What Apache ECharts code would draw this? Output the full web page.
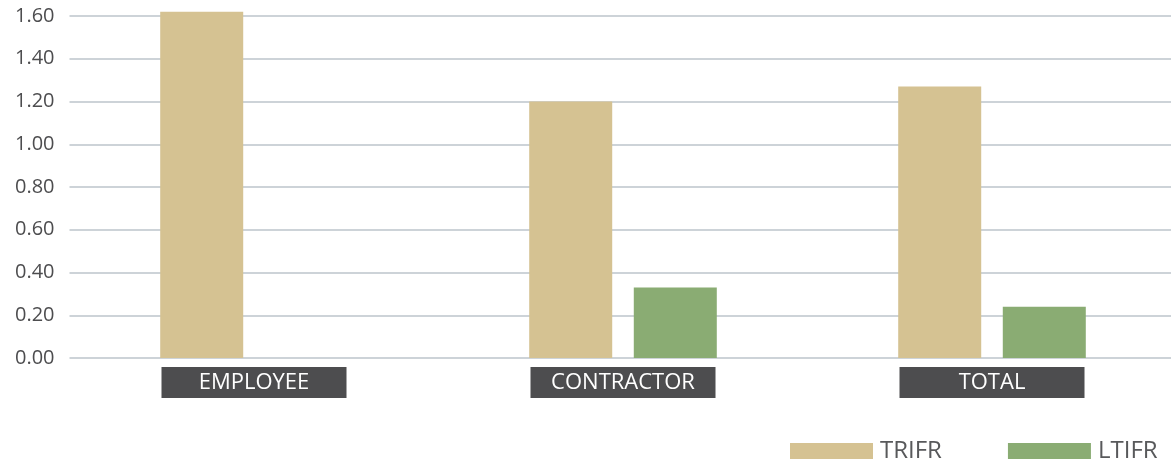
<!DOCTYPE html>
<html>
<head>
<meta charset="utf-8">
<script src="https://cdn.jsdelivr.net/npm/echarts@6/dist/echarts.min.js"></script>
<style>
  html, body { margin: 0; padding: 0; background: #fff; }
  #chart { width: 1171px; height: 466px; }
</style>
</head>
<body>
<div id="chart"></div>
<script>
// categories and values
const categories = ['EMPLOYEE', 'CONTRACTOR', 'TOTAL'];
const trifr = [1.62, 1.20, 1.27];
const ltifr = [null, 0.33, 0.24];
const seriesNames = ['TRIFR', 'LTIFR'];
const colors = ['#d5c292', '#8aac73'];

const FONT = '"Open Sans", sans-serif';

const chart = echarts.init(document.getElementById('chart'));

const option = {
  animation: false,
  color: colors,
  grid: {
    left: 69.5,
    top: 16,
    width: 1107,
    height: 342,
    containLabel: false,
    outerBoundsMode: 'none'
  },
  legend: {
    data: seriesNames,
    left: 790,
    top: 439,
    padding: 0,
    itemWidth: 83,
    itemHeight: 16,
    itemGap: 66,
    icon: 'rect',
    textStyle: {
      fontFamily: FONT,
      fontSize: 24,
      color: '#58595b',
      padding: [14, 0, 0, 2]
    }
  },
  xAxis: {
    type: 'category',
    data: categories,
    axisLine: { show: false },
    axisTick: { show: false },
    axisLabel: {
      margin: 9,
      fontFamily: FONT,
      fontSize: 22,
      color: '#ffffff',
      backgroundColor: '#4d4d4f',
      width: 185,
      height: 31,
      lineHeight: 31,
      align: 'center',
      verticalAlign: 'top'
    }
  },
  yAxis: {
    type: 'value',
    min: 0,
    max: 1.6,
    interval: 0.2,
    axisLine: { show: false },
    axisTick: { show: false },
    axisLabel: {
      margin: 15,
      fontFamily: FONT,
      fontSize: 20,
      color: '#4d4d4f',
      formatter: v => v.toFixed(2)
    },
    splitLine: {
      lineStyle: { color: '#bcc5cb', width: 1.5 }
    }
  },
  series: [
    {
      name: seriesNames[0],
      type: 'bar',
      data: trifr,
      barWidth: 83,
      barGap: '26%',
      clip: false
    },
    {
      name: seriesNames[1],
      type: 'bar',
      data: ltifr,
      barWidth: 83,
      barGap: '26%',
      clip: false
    }
  ]
};

chart.setOption(option);
</script>
</body>
</html>
